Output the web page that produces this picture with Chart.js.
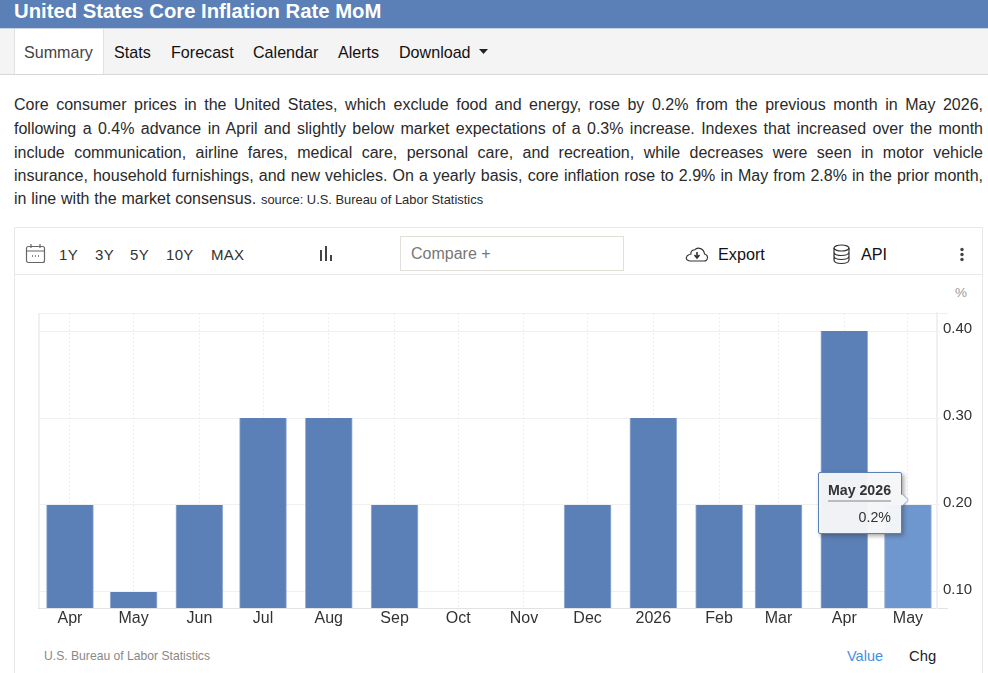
<!DOCTYPE html>
<html>
<head>
<meta charset="utf-8">
<title>United States Core Inflation Rate MoM</title>
<script src="https://cdn.jsdelivr.net/npm/chart.js@4"></script>
<style>
html, body { margin: 0; padding: 0; background: #fff; overflow: hidden; }
body { width: 988px; height: 673px; position: relative; font-family: "Liberation Sans", Arial, sans-serif; color: #222; }
.abs { position: absolute; white-space: nowrap; }
#banner { left: 0; top: 0; width: 988px; height: 28px; background: #5b7fb7; border-bottom: 1px solid #c9d3e3; }
#banner span { position: absolute; left: 14px; top: -2.500px; font-size: 20.300px; line-height: 26px; font-weight: bold; color: #fff; }
#nav { left: 0; top: 29px; width: 988px; height: 45px; background: #f4f4f4; border-bottom: 1px solid #d8d8d8; }
#navActive { left: 14px; top: 29px; width: 88px; height: 45px; background: #fff; border-left: 1px solid #e2e2e2; border-right: 1px solid #e2e2e2; }
.navItem { top: 43px; font-size: 16.100px; line-height: 18px; color: #111; }
#summary { left: 14px; top: 93px; width: 969px; font-size: 16px; line-height: 24px; color: #2a2a2a; white-space: normal; }
#summary div { height: 24px; text-align: justify; text-align-last: justify; }
#summary div.tight { height: 23px; }
#summary div.end { text-align: left; text-align-last: left; word-spacing: .4px; }
#summary small { font-size: 12.900px; word-spacing: 0; }
#box { left: 14px; top: 227px; width: 967px; height: 460px; border: 1px solid #e8e8e8; box-sizing: content-box; }
#toolDivider { left: 15px; top: 274px; width: 967px; height: 1px; background: #e8e8e8; }
.range { top: 246px; font-size: 15px; line-height: 18px; color: #333; letter-spacing: .3px; }
#compare { left: 400px; top: 236px; width: 222px; height: 33px; border: 1px solid #e0e0d8; font-size: 16px; line-height: 33px; color: #777; text-indent: 10px; }
.tool { top: 245px; font-size: 16.200px; line-height: 18px; color: #111; }
#unit { left: 955px; top: 285px; font-size: 13.500px; line-height: 15px; color: #999; }
#source { left: 44px; top: 649px; font-size: 12.150px; line-height: 14px; color: #888; }
#value { left: 847px; top: 648px; font-size: 14.500px; line-height: 17px; color: #3f8fe8; }
#chg { left: 909px; top: 648px; font-size: 14.800px; line-height: 17px; color: #222; }
#chartWrap { left: 15px; top: 300px; width: 968px; height: 340px; }
#plotLeft { left: 38px; top: 313px; width: 2px; height: 295px; background: #f0f0f0; }
#plotTop { left: 38px; top: 313px; width: 910px; height: 1px; background: #f0f0f0; }
#plotBottom { left: 38px; top: 608px; width: 910px; height: 1px; background: #e2e2e2; }
#tip { position: absolute; background: rgba(245,246,248,.97); border: 1px solid #5b7fb7; border-radius: 2px; box-shadow: 2px 2px 4px rgba(60,60,60,.45); width: 84px; height: 62px; box-sizing: border-box; font-size: 14.200px; color: #333; text-align: right; }
#tip .head { position: absolute; left: 9px; right: 10px; top: 8px; line-height: 18px; padding-bottom: 1px; font-weight: bold; border-bottom: 2px solid #bbb; text-align: center; }
#tip .val { position: absolute; right: 10px; top: 36px; line-height: 16px; }
#tip:after { content: ""; position: absolute; right: -5px; top: 23px; width: 8px; height: 8px; background: #f5f6f8; transform: rotate(45deg); box-shadow: 1px -1px 1px rgba(91,127,183,.5); }
</style>
</head>
<body>
<div id="banner" class="abs"><span>United States Core Inflation Rate MoM</span></div>
<div id="nav" class="abs"></div>
<div id="navActive" class="abs"></div>
<div class="abs navItem" style="left:24px;color:#444">Summary</div>
<div class="abs navItem" style="left:114px">Stats</div>
<div class="abs navItem" style="left:171px">Forecast</div>
<div class="abs navItem" style="left:253px">Calendar</div>
<div class="abs navItem" style="left:338px">Alerts</div>
<div class="abs navItem" style="left:399px">Download</div>
<svg class="abs" style="left:479px;top:49px" width="10" height="6"><path d="M0 0H9L4.500 5Z" fill="#222"/></svg>

<div id="summary" class="abs">
<div>Core consumer prices in the United States, which exclude food and energy, rose by 0.2% from the previous month in May 2026,</div>
<div>following a 0.4% advance in April and slightly below market expectations of a 0.3% increase. Indexes that increased over the month</div>
<div class="tight">include communication, airline fares, medical care, personal care, and recreation, while decreases were seen in motor vehicle</div>
<div class="tight">insurance, household furnishings, and new vehicles. On a yearly basis, core inflation rose to 2.9% in May from 2.8% in the prior month,</div>
<div class="end">in line with the market consensus. <small>source: U.S. Bureau of Labor Statistics</small></div>
</div>

<div id="box" class="abs"></div>
<div id="toolDivider" class="abs"></div>
<svg class="abs" style="left:25px;top:243px" width="22" height="22" fill="none" stroke="#666" stroke-width="1.200"><rect x="1.500" y="3.500" width="18" height="16" rx="2"/><path d="M1.500 8H19.500M6 1V5M15 1V5"/><path d="M7 13H8M10 13H11M13 13H14" stroke-width="1.600"/></svg>
<div class="abs range" style="left:59px">1Y</div>
<div class="abs range" style="left:95px">3Y</div>
<div class="abs range" style="left:130px">5Y</div>
<div class="abs range" style="left:166px">10Y</div>
<div class="abs range" style="left:211px">MAX</div>
<svg class="abs" style="left:319px;top:246px" width="15" height="16" fill="#444"><rect x="1" y="4" width="2" height="11"/><rect x="6" y="0" width="2" height="15"/><rect x="11" y="9" width="2" height="6"/></svg>
<div id="compare" class="abs">Compare +</div>
<svg class="abs" style="left:684px;top:244px" width="26" height="20" fill="none" stroke="#333" stroke-width="1.100"><path d="M6 17H20C24 17 25 11 20.500 10C20 5 14 2 10.500 6C8 5.500 6.500 8 7 10C2 11 0 16 6 17Z"/><path d="M13 8V13M10.500 11L13 14L15.500 11" stroke-width="1.600"/></svg>
<div class="abs tool" style="left:718px">Export</div>
<svg class="abs" style="left:832px;top:243px" width="20" height="22" fill="none" stroke="#333" stroke-width="1.200"><ellipse cx="9.500" cy="5" rx="7.500" ry="3"/><path d="M2 5V17C2 19 5 20.500 9.500 20.500C14 20.500 17 19 17 17V5M2 9C2 11 5 12.500 9.500 12.500C14 12.500 17 11 17 9M2 13C2 15 5 16.500 9.500 16.500C14 16.500 17 15 17 13"/></svg>
<div class="abs tool" style="left:861px">API</div>
<svg class="abs" style="left:959px;top:247px" width="6" height="16" fill="#444"><circle cx="3" cy="2.500" r="1.700"/><circle cx="3" cy="7.500" r="1.700"/><circle cx="3" cy="12.500" r="1.700"/></svg>
<div id="unit" class="abs">%</div>

<div id="plotLeft" class="abs"></div>
<div id="plotTop" class="abs"></div>
<div id="plotBottom" class="abs"></div>
<div id="chartWrap" class="abs"><canvas id="rateChart" width="968" height="340"></canvas></div>
<div id="source" class="abs">U.S. Bureau of Labor Statistics</div>
<div id="value" class="abs">Value</div>
<div id="chg" class="abs">Chg</div>

<script>
// days since the first release, so the gaps between bars follow the calendar
var releaseDays = [0, 30, 61, 91, 122, 153, 183, 214, 244, 275, 306, 334, 365, 395];
var monthLabels = ['Apr', 'May', 'Jun', 'Jul', 'Aug', 'Sep', 'Oct', 'Nov', 'Dec', '2026', 'Feb', 'Mar', 'Apr', 'May'];
var periodNames = ['Apr 2025', 'May 2025', 'Jun 2025', 'Jul 2025', 'Aug 2025', 'Sep 2025', 'Oct 2025', 'Nov 2025', 'Dec 2025', 'Jan 2026', 'Feb 2026', 'Mar 2026', 'Apr 2026', 'May 2026'];
var momValues = [0.2, 0.1, 0.2, 0.3, 0.3, 0.2, null, null, 0.2, 0.3, 0.2, 0.2, 0.4, 0.2];
var yTicks = [0.1, 0.2, 0.3, 0.4];

var points = [];
for (var i = 0; i < releaseDays.length; i++) {
    points.push({ x: releaseDays[i], y: momValues[i] });
}

// tooltip is a plain div so it can have the rule under the title and the shadow
var tip = document.createElement('div');
tip.id = 'tip';
tip.innerHTML = '<div class="head"></div><div class="val"></div>';
document.getElementById('chartWrap').appendChild(tip);

function drawTip(context) {
    var t = context.tooltip;
    if (!t.dataPoints || !t.dataPoints.length) return;
    var idx = t.dataPoints[0].dataIndex;
    tip.querySelector('.head').textContent = periodNames[idx];
    tip.querySelector('.val').textContent = momValues[idx] + '%';
    // sits to the left of the hovered bar with the arrow touching its top edge
    tip.style.left = (t.caretX - 90) + 'px';
    tip.style.top = (t.caretY - 33) + 'px';
}

var ctx = document.getElementById('rateChart').getContext('2d');
var chart = new Chart(ctx, {
    type: 'bar',
    data: {
        datasets: [{
            data: points,
            backgroundColor: '#5b7fb7',
            hoverBackgroundColor: '#6f97cf',
            borderColor: '#9fb6d8',
            hoverBorderColor: '#9fb6d8',
            borderWidth: { left: 1, right: 1, top: 0, bottom: 0 },
            barThickness: 47
        }]
    },
    options: {
        responsive: false,
        animation: false,
        layout: { padding: { left: 24, top: 13 } },
        plugins: {
            legend: { display: false },
            title: { display: false },
            tooltip: { enabled: false, external: drawTip }
        },
        scales: {
            x: {
                type: 'linear',
                offset: false,
                min: -14.6,
                max: 408.7,
                afterBuildTicks: function (axis) {
                    axis.ticks = releaseDays.map(function (d) { return { value: d }; });
                },
                afterFit: function (axis) { axis.height = 32; },
                grid: { offset: false, color: '#eeeeee', drawTicks: false },
                border: { display: false, dash: [2, 2] },
                ticks: {
                    autoSkip: false,
                    maxRotation: 0,
                    padding: 1,
                    color: '#333',
                    font: { family: 'Liberation Sans', size: 16 },
                    callback: function (value) { return monthLabels[releaseDays.indexOf(value)]; }
                }
            },
            y: {
                position: 'right',
                min: 0.0816,
                max: 0.4207,
                afterBuildTicks: function (axis) {
                    axis.ticks = yTicks.map(function (v) { return { value: v }; });
                },
                afterFit: function (axis) { axis.width = 46; },
                grid: { color: '#f0f0f0', tickLength: 3 },
                border: { color: '#f0f0f0', width: 2 },
                ticks: {
                    padding: 3,
                    labelOffset: -2,
                    color: '#333',
                    font: { family: 'Liberation Sans', size: 15 },
                    callback: function (value) { return value.toFixed(2); }
                }
            }
        }
    }
});

var last = momValues.length - 1;
chart.setActiveElements([{ datasetIndex: 0, index: last }]);
chart.tooltip.setActiveElements([{ datasetIndex: 0, index: last }], { x: 0, y: 0 });
chart.update();
</script>
</body>
</html>
